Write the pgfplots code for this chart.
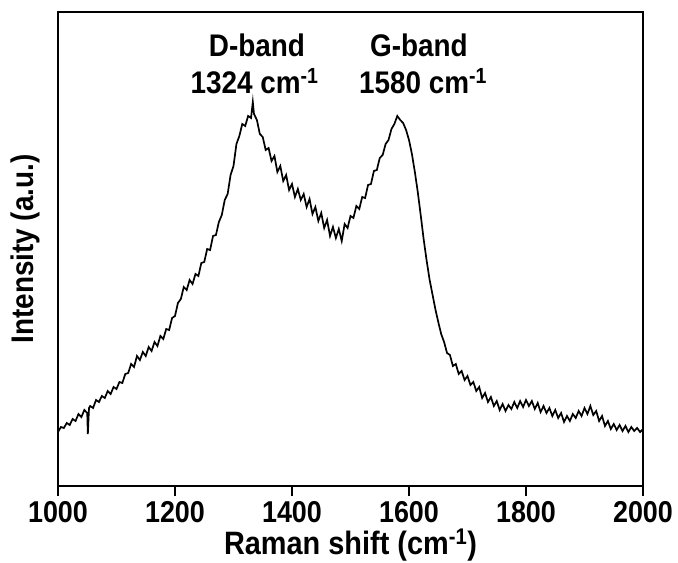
\documentclass[border=0pt]{standalone}
\usepackage{pgfplots}
\pgfplotsset{compat=1.18}
\usepackage{fontspec}
\setmainfont{Liberation Sans}
\newcommand{\vs}[1]{\scalebox{1}[1.12]{#1}}
\begin{document}
\begin{tikzpicture}
\useasboundingbox (-58bp,-77bp) rectangle (620bp,486bp);
\begin{axis}[
  at={(0bp,0bp)}, anchor=south west,
  scale only axis,
  width=585bp, height=474bp,
  xmin=1000, xmax=2000, ymin=0, ymax=474,
  xtick={1000,1200,...,2000},
  ytick=\empty,
  axis line style={line width=1.4bp},
  tick align=outside,
  tick pos=left,
  major tick length=10bp,
  xtick style={draw=black, solid, line width=1.4bp},
  xticklabel={\vs{\pgfmathprintnumber[1000 sep={},assume math mode=true]{\tick}}},
  xticklabel style={font=\fontsize{27}{30}\selectfont\bfseries, anchor=north, yshift=-2bp},
  xlabel={\vs{Raman shift (cm\textsuperscript{-1})}},
  ylabel={\vs{Intensity (a.u.)}},
  xlabel style={font=\fontsize{29}{32}\selectfont\bfseries, at={(axis description cs:0.5,-0.1245)}, anchor=center},
  ylabel style={font=\fontsize{28}{32}\selectfont\bfseries, at={(axis description cs:-0.0564,0.5)}, anchor=center},
  clip=false,
]
\addplot[black, line width=1.7bp] table {
1000 54
1005 59
1010 58
1015 63
1020 61
1025 67
1030 65
1035 72
1040 69
1045 76
1050 73
1051 52
1053 78
1055 80
1060 78
1065 86
1070 84
1075 90
1080 88
1085 95
1090 92
1095 99
1100 97
1105 104
1110 103
1115 112
1120 113
1125 122
1130 119
1135 130
1140 126
1145 134
1150 130
1155 139
1160 135
1165 144
1170 140
1175 150
1180 147
1185 157
1190 156
1195 168
1200 170
1205 183
1210 187
1215 199
1220 196
1225 206
1230 202
1235 212
1240 210
1245 223
1250 224
1255 237
1260 236
1265 250
1270 251
1275 264
1280 271
1285 286
1290 292
1295 311
1300 320
1305 342
1310 350
1315 362
1320 360
1325 370
1330 368
1333 384
1335 372
1340 366
1345 352
1350 349
1355 336
1360 338
1365 325
1370 330
1375 314
1380 320
1385 305
1390 311
1395 296
1400 302
1405 289
1410 297
1415 286
1420 292
1425 279
1430 287
1435 272
1440 279
1445 265
1450 273
1455 258
1460 266
1465 250
1470 259
1475 248
1480 257
1485 245
1490 262
1495 258
1500 270
1505 268
1510 280
1515 277
1520 289
1525 288
1530 301
1535 302
1540 315
1545 316
1550 328
1555 331
1560 342
1565 346
1570 357
1575 362
1580 370
1585 366
1590 363
1595 356
1600 346
1605 332
1610 314
1615 294
1620 271
1625 247
1630 226
1635 207
1640 192
1645 177
1650 164
1655 152
1660 144
1665 133
1670 131
1675 120
1680 122
1685 112
1690 115
1695 106
1700 110
1705 101
1710 104
1715 95
1720 99
1725 88
1730 93
1735 84
1740 89
1745 80
1750 85
1755 76
1760 82
1765 75
1770 81
1775 77
1780 84
1785 78
1790 85
1795 79
1800 86
1805 80
1810 85
1815 77
1820 83
1825 74
1830 80
1835 73
1840 78
1845 70
1850 76
1855 68
1860 73
1865 64
1870 70
1875 65
1880 72
1885 68
1890 75
1895 70
1900 78
1905 72
1910 80
1915 71
1920 75
1925 65
1930 70
1935 60
1940 65
1945 57
1950 62
1955 56
1960 61
1965 55
1970 60
1975 54
1980 59
1985 55
1990 58
1995 54
2000 57
};
\draw[black, line width=1.6bp] (rel axis cs:0,0) -- (rel axis cs:0,-0.022);
\draw[black, line width=1.6bp] (rel axis cs:0.2,0) -- (rel axis cs:0.2,-0.022);
\draw[black, line width=1.6bp] (rel axis cs:0.4,0) -- (rel axis cs:0.4,-0.022);
\draw[black, line width=1.6bp] (rel axis cs:0.6,0) -- (rel axis cs:0.6,-0.022);
\draw[black, line width=1.6bp] (rel axis cs:0.8,0) -- (rel axis cs:0.8,-0.022);
\draw[black, line width=1.6bp] (rel axis cs:1,0) -- (rel axis cs:1,-0.022);
\node[font=\fontsize{28}{32}\selectfont\bfseries] at (axis cs:1340,441) {\vs{D-band}};
\node[font=\fontsize{28}{32}\selectfont\bfseries] at (axis cs:1336,405) {\vs{1324 cm\textsuperscript{-1}}};
\node[font=\fontsize{28}{32}\selectfont\bfseries] at (axis cs:1617,441) {\vs{G-band}};
\node[font=\fontsize{28}{32}\selectfont\bfseries] at (axis cs:1624,405) {\vs{1580 cm\textsuperscript{-1}}};
\end{axis}
\end{tikzpicture}
\end{document}
